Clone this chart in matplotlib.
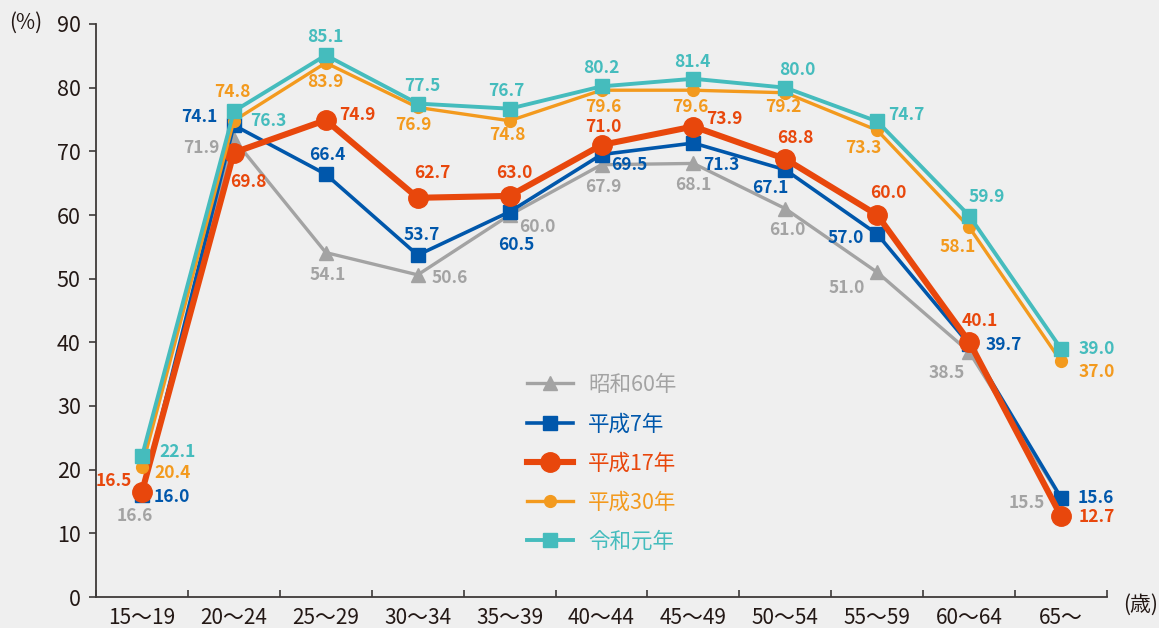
import matplotlib
matplotlib.use("Agg")
import matplotlib.pyplot as plt
import numpy as np

plt.rcParams['font.family'] = ['Noto Sans CJK JP', 'DejaVu Sans']

categories = ["15～19", "20～24", "25～29", "30～34", "35～39", "40～44",
              "45～49", "50～54", "55～59", "60～64", "65～"]
series_names = ["昭和60年", "平成7年", "平成17年", "平成30年", "令和元年"]
s60 = [16.6, 71.9, 54.1, 50.6, 60.0, 67.9, 68.1, 61.0, 51.0, 38.5, 15.5]
h7 = [16.0, 74.1, 66.4, 53.7, 60.5, 69.5, 71.3, 67.1, 57.0, 39.7, 15.6]
h17 = [16.5, 69.8, 74.9, 62.7, 63.0, 71.0, 73.9, 68.8, 60.0, 40.1, 12.7]
h30 = [20.4, 74.8, 83.9, 76.9, 74.8, 79.6, 79.6, 79.2, 73.3, 58.1, 37.0]
r1 = [22.1, 76.3, 85.1, 77.5, 76.7, 80.2, 81.4, 80.0, 74.7, 59.9, 39.0]
yticks = [0, 10, 20, 30, 40, 50, 60, 70, 80, 90]

# styles (color, marker, markersize, linewidth, zorder)
styles = [
    dict(color="#a3a3a3", marker="^", ms=10, lw=2.4, z=2),
    dict(color="#0057ab", marker="s", ms=10.5, lw=2.6, z=3),
    dict(color="#e8470c", marker="o", ms=14, lw=4.4, z=4),
    dict(color="#f39a1e", marker="o", ms=8.5, lw=2.4, z=5),
    dict(color="#45bcbd", marker="s", ms=9.5, lw=2.8, z=6),
]

# label offsets in pixels: (dx, dy_down, ha)
offsets = [
    [(-7, 25, 'center'), (-14, 9, 'right'), (2, 22, 'center'), (14, 3, 'left'),
     (10, 12, 'left'), (2, 22, 'center'), (0, 22, 'center'), (2, 21, 'center'),
     (-12, 16, 'right'), (-4, 21, 'right'), (-16, 5, 'right')],
    [(12, 2, 'left'), (-16, -8, 'right'), (2, -19, 'center'), (4, -20, 'center'),
     (7, 33, 'center'), (10, 10, 'left'), (10, 22, 'left'), (3, 18, 'right'),
     (-13, 4, 'right'), (16, 1, 'left'), (17, 0, 'left')],
    [(-10, -11, 'right'), (14, 29, 'center'), (13, -5, 'left'), (15, -25, 'center'),
     (5, -23, 'center'), (2, -18, 'center'), (13, -8, 'left'), (10, -21, 'center'),
     (11, -22, 'center'), (11, -21, 'center'), (18, 1, 'left')],
    [(12, 6, 'left'), (-2, -29, 'center'), (0, 19, 'center'), (-4, 18, 'center'),
     (-2, 14, 'center'), (2, 17, 'center'), (-3, 17, 'center'), (-2, 14, 'center'),
     (-14, 18, 'center'), (-11, 20, 'center'), (18, 11, 'left')],
    [(17, -4, 'left'), (16, 10, 'left'), (0, -18, 'center'), (5, -18, 'center'),
     (-3, -18, 'center'), (0, -18, 'center'), (-1, -17, 'center'), (12, -18, 'center'),
     (11, -6, 'left'), (18, -19, 'center'), (18, 0, 'left')],
]

W, H = 1159, 628
fig = plt.figure(figsize=(W / 100, H / 100), dpi=100)
bg = "#efefef"
fig.patch.set_facecolor(bg)
ax = fig.add_axes([96 / W, 1 - 597 / H, (1107 - 96) / W, (597 - 24) / H])
ax.set_facecolor(bg)

x = np.arange(len(categories))
data = [s60, h7, h17, h30, r1]
lines = []
for name, vals, st, offs in zip(series_names, data, styles, offsets):
    ln, = ax.plot(x, vals, color=st["color"], marker=st["marker"], ms=st["ms"],
                  lw=st["lw"], zorder=st["z"], label=name, clip_on=False,
                  solid_joinstyle='miter')
    lines.append(ln)
    for xi, v, (dx, dy, ha) in zip(x, vals, offs):
        ax.annotate(f"{v:.1f}", (xi, v), xytext=(dx, -dy), textcoords='offset pixels',
                    ha=ha, va='center', color=st["color"], fontsize=12.5,
                    fontweight='bold', zorder=10)

ax.set_xlim(-0.5, len(categories) - 0.5)
ax.set_ylim(0, 90)
ax.set_yticks(yticks)
ax.set_yticklabels([str(t) for t in yticks], fontsize=15.5, color="#231815")
ax.set_xticks(x)
ax.set_xticklabels(categories, fontsize=15, color="#231815")
ax.tick_params(axis='x', which='major', length=0, pad=7)
ax.set_xticks(np.arange(-0.5, len(categories), 1.0), minor=True)
ax.tick_params(axis='x', which='minor', direction='in', length=5, width=1.2, color="#3e3a39")
ax.tick_params(axis='y', which='major', direction='out', length=5, width=1.2, color="#3e3a39", pad=6)

for s in ['top', 'right']:
    ax.spines[s].set_visible(False)
for s in ['left', 'bottom']:
    ax.spines[s].set_color("#3e3a39")
    ax.spines[s].set_linewidth(1.3)

fig.text(9 / W, 1 - 23 / H, "(%)", ha='left', va='center', fontsize=15, color="#231815")
fig.text(1158 / W, 1 - 605 / H, "(歳)", ha='right', va='center', fontsize=15, color="#231815")

leg = ax.legend(handles=lines, loc='upper left', bbox_to_anchor=(527 / W, 1 - 374 / H),
                bbox_transform=fig.transFigure, frameon=False, fontsize=15.5,
                handlelength=2.15, handletextpad=0.7, labelspacing=0.8,
                borderpad=0, borderaxespad=0, labelcolor='linecolor', markerscale=1.0)

fig.savefig("out.png", dpi=100, facecolor=bg)
